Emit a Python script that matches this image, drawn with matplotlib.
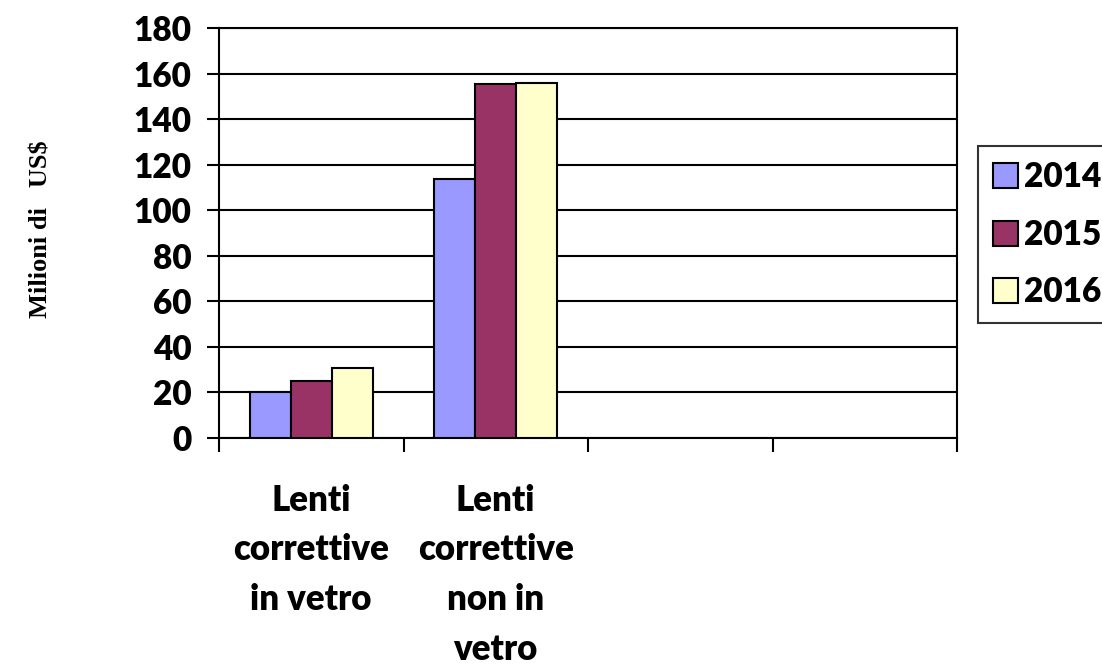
import matplotlib
matplotlib.use("Agg")
import matplotlib.pyplot as plt
import numpy as np

# Data
categories = ["Lenti\ncorrettive\nin vetro", "Lenti\ncorrettive\nnon in\nvetro", "", ""]
years = ["2014", "2015", "2016"]
values_2014 = [20, 113.5, None, None]
values_2015 = [25, 155.5, None, None]
values_2016 = [30.5, 156, None, None]
y_ticks = [0, 20, 40, 60, 80, 100, 120, 140, 160, 180]

series = [values_2014, values_2015, values_2016]
colors = ["#9999FF", "#993366", "#FFFFCC"]

FW = "heavy"
plt.rcParams["font.family"] = ["Lato", "DejaVu Sans"]
plt.rcParams["font.weight"] = FW

fig = plt.figure(figsize=(11.02, 6.65), dpi=100)
ax = fig.add_axes([219 / 1102, 1 - 437.7 / 665, (957 - 219) / 1102, (437.7 - 28) / 665])

n_cat = len(categories)
bar_w = 1 / 4.5
idx = np.arange(n_cat)
for k, (vals, col, yr) in enumerate(zip(series, colors, years)):
    xs = [i + 0.5 + (k - 1) * bar_w for i, v in zip(idx, vals) if v is not None]
    hs = [v for v in vals if v is not None]
    ax.bar(xs, hs, width=bar_w, color=col, edgecolor="black", linewidth=1.5,
           label=yr, zorder=3)

ax.set_xlim(0, n_cat)
ax.set_ylim(0, 180)
ax.set_yticks(y_ticks)
ax.set_yticklabels([str(t) for t in y_ticks], fontsize=24, fontweight=FW)
ax.yaxis.grid(True, color="black", linewidth=1.5, zorder=0)
ax.set_axisbelow(True)

ax.set_xticks(np.arange(n_cat + 1))
ax.set_xticklabels([])
ax.set_xticks(idx + 0.5, minor=True)
ax.set_xticklabels(categories, minor=True, fontsize=25, fontweight=FW,
                   linespacing=1.62)
ax.tick_params(axis="x", which="minor", length=0, pad=33)
ax.tick_params(axis="x", which="major", direction="out", length=10, width=1.5)
ax.tick_params(axis="y", direction="out", length=9, width=1.5, pad=11)

for sp in ax.spines.values():
    sp.set_color("black")
    sp.set_linewidth(1.5)

ax.set_ylabel("Milioni di   US$", family=["Liberation Serif"], fontweight="bold",
              fontsize=19)
ax.yaxis.set_label_coords(-0.226, 0.51)

leg = fig.legend(loc="upper left", bbox_to_anchor=(977.7 / 1102, 1 - 146 / 665),
                 fontsize=24, frameon=True, fancybox=False, shadow=False,
                 handlelength=0.75, handleheight=0.78, handletextpad=0.2,
                 borderpad=0.45, labelspacing=0.77, borderaxespad=0)
leg.get_frame().set_edgecolor("black")
leg.get_frame().set_linewidth(1.5)
for t in leg.get_texts():
    t.set_fontweight(FW)

fig.savefig("out.png", dpi=100)
